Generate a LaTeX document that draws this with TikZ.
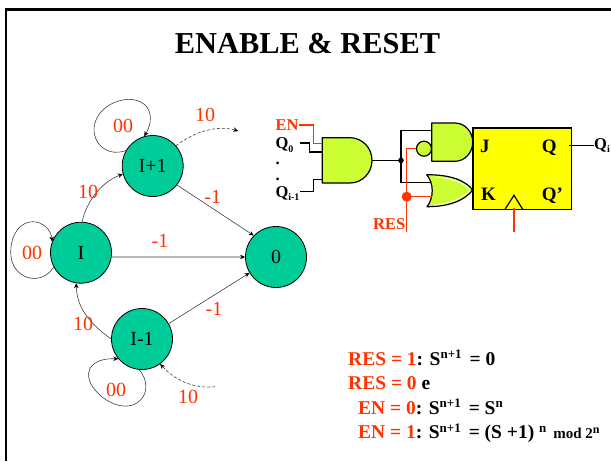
\documentclass[tikz,border=0pt]{standalone}
\usepackage{fontspec}
\setmainfont{Liberation Serif}
\usetikzlibrary{arrows.meta}
\definecolor{stategreen}{HTML}{00CC99}
\definecolor{gatelime}{HTML}{CCFF33}
\definecolor{ffyellow}{HTML}{FFFF00}
\definecolor{redor}{HTML}{FF3300}
\newcommand{\fsz}[1]{\fontsize{#1}{#1}\selectfont}
\newcommand{\supx}[1]{\raisebox{0.33em}{\fsz{13}#1}}
\newcommand{\subx}[1]{\raisebox{-0.2em}{\fsz{10}#1}}
\tikzset{
  x=1pt,y=-1pt,
  state/.style={circle,draw=black,line width=0.8pt,fill=stategreen,minimum size=61pt,inner sep=0pt,font=\fsz{20}},
  lab/.style={text=redor,font=\fsz{20},inner sep=0pt,anchor=center},
  edge/.style={draw=black!80,line width=0.55pt,-{Stealth[length=5pt,width=4.5pt,color=black]}},
  dashedge/.style={edge,densely dashed},
  gate/.style={draw=black,line width=1.2pt,fill=gatelime,line join=round},
  wire/.style={draw=black,line width=1.1pt},
  redwire/.style={draw=redor,line width=1.1pt},
  pinlab/.style={font=\bfseries\fsz{16.5},inner sep=0pt,anchor=base west},
  fflab/.style={font=\bfseries\fsz{19},inner sep=0pt,anchor=base west},
  eqn/.style={font=\bfseries\fsz{19.5},inner sep=0pt,anchor=base west}
}
\begin{document}
\begin{tikzpicture}
\useasboundingbox (0,0) rectangle (611,461);
\draw[line width=2.6pt,black] (611,9.5) -- (6,9.5) -- (6,461);
\node[font=\bfseries\fsz{30.4},inner sep=0pt,anchor=base] (title) at (307.5,53) {ENABLE \& RESET};

% states
\node[state] (ip) at (152.7,166) {I+1};
\node[state] (i) at (81,252.7) {I};
\node[state] (z) at (276,257) {0};
\node[state] (im) at (142,339) {I-1};
\coordinate (dashout) at (238.3,131);
\coordinate (dashin) at (215,386.7);

% edges
\draw[edge] (ip.150) .. controls (105,158) and (90,140) .. (95,123) .. controls (100,105) and (122,97) .. (135,100) .. controls (150,103) and (155,118) .. (ip.106);
\draw[edge] (i.208) .. controls (40,288) and (10.7,278) .. (10.7,252.7) .. controls (10.7,232) and (22,221.7) .. (32.7,221.7) .. controls (43,221.7) and (51,230) .. (i.159);
\draw[edge] (im.-95) .. controls (148,380) and (149,395) .. (137,403) .. controls (122,412) and (100,400) .. (91,384) .. controls (83,368) and (95,358) .. (im.220);
\draw[edge] (i.88) .. controls (87,200) and (102,182) .. (ip.195);
\draw[dashedge] (ip.41) .. controls (195,131) and (218,125) .. (dashout);
\draw[edge] (ip.-38) -- (z.136);
\draw[edge] (i.-8) -- (z.180);
\draw[edge] (im.30) -- (z.211);
\draw[edge] (im.180) .. controls (92,325) and (77,310) .. (i.261);
\draw[dashedge] (dashin) .. controls (193,389) and (175,380) .. (im.-54);

% state labels
\node[lab] (l1) at (123,126) {00};
\node[lab] (l2) at (205,115) {10};
\node[lab] (l3) at (88,192) {10};
\node[lab] (l4) at (212.7,197) {-1};
\node[lab] (l5) at (160,240.7) {-1};
\node[lab] (l6) at (32,253) {00};
\node[lab] (l7) at (83,324) {10};
\node[lab] (l8) at (214,309) {-1};
\node[lab] (l9) at (116,390) {00};
\node[lab] (l10) at (188,396.7) {10};

% flip-flop
\draw[line width=1.4pt,fill=ffyellow] (473,128) rectangle (571.3,209.3);
\coordinate (clkapex) at (514,195.3);
\draw[line width=1.2pt] (505,209.3) -- (clkapex) -- (522.7,209.3);

% gates
\draw[gate] (322.3,137.7) -- (350,137.7) arc[start angle=-90,end angle=90,x radius=22,y radius=22.65] -- (322.3,183) -- cycle;
\draw[gate] (431.7,123) -- (455,123) arc[start angle=-90,end angle=90,x radius=17.7,y radius=19.15] -- (431.7,161.3) -- cycle;
\draw[gate] (426.7,174.7) .. controls (450,174.7) and (465,180) .. (472.7,190) .. controls (465,200) and (450,206.7) .. (427,206.7) .. controls (434,198) and (434,183) .. (426.7,174.7) -- cycle;
\draw[white,line width=0.9pt] (435,177) .. controls (450,178) and (462,182) .. (470,189);
\draw[white,line width=0.9pt] (434,205) .. controls (450,204) and (462,198) .. (470,191);
\node[circle,draw=black,line width=1.2pt,fill=gatelime,minimum size=15pt,inner sep=0pt] (bub) at (424,148.7) {};

% wire pins
\coordinate (and1out) at (372.3,160.4);
\coordinate (jun) at (401,160.4);
\coordinate (jtop) at (401,130.3);
\coordinate (jin) at (431.7,130.3);
\coordinate (jbot) at (401,182.7);
\coordinate (kin) at (431,182.7);
\coordinate (resdot) at (406.7,196.7);
\coordinate (resin) at (431.7,196.7);
\coordinate (resbot) at (406.7,232);
\coordinate (restop) at (406.7,148.7);
\coordinate (clkin) at (514,207.7);
\coordinate (clkbot) at (514,232);
\coordinate (qout) at (569.3,145.3);

% labels left
\node[pinlab,text=redor] (en) at (275.3,130.7) {EN};
\node[pinlab] (q0) at (275.3,148.7) {Q\subx{0}};
\node[pinlab] (qn) at (275.3,197) {Q\subx{i-1}};
\node[pinlab] at (275.3,164) (d1) {.};
\node[pinlab] at (275.3,180) (d2) {.};
\node[pinlab,text=redor] (res) at (373,229) {RES};
\node[fflab] (fj) at (480,152) {J};
\node[fflab] (fq) at (541.7,152) {Q};
\node[fflab] (fk) at (481,200.7) {K};
\node[fflab] (fqb) at (541.7,200.7) {Q'};
\node[pinlab] (qi) at (594,149) {Q\subx{i}};

% wires
\draw[redwire] (en.east |- 0,125) -- (313.3,125) -- (313.3,143.3) -- (322.3,143.3);
\draw[wire] (300,143) -- (309.3,143) -- (309.3,152) -- (322.3,152);
\draw[wire] (300,191.7) -- (313.3,191.7) -- (313.3,179.3) -- (322.3,179.3);
\draw[wire] (and1out) -- (jun);
\draw[wire] (jin) -- (jtop) -- (jbot) -- (kin);
\fill[black] (jun) circle[radius=2.8];
\draw[redwire] (bub.west) -- (restop) -- (resbot);
\draw[redwire] (resdot) -- (resin);
\fill[redor] (resdot) circle[radius=5];
\draw[redwire] (clkin) -- (clkbot);
\draw[wire] (qout) -- (qi.west |- qout);

% equations
\node[eqn] (e1) at (348,365) {\textcolor{redor}{RES = 1}: S\supx{n+1}\kern3pt{} = 0};
\node[eqn] (e2) at (348,389) {\textcolor{redor}{RES = 0} e};
\node[eqn] (e3) at (358,414) {\textcolor{redor}{EN = 0}: S\supx{n+1}\kern3pt{} = S\supx{n}};
\node[eqn] (e4) at (358,438.7) {\textcolor{redor}{EN = 1}: S\supx{n+1}\kern3pt{} = (S +1) \supx{n}\kern2pt{} {\fsz{15}mod 2\supx{\fsz{12}n}}};
\end{tikzpicture}
\end{document}
